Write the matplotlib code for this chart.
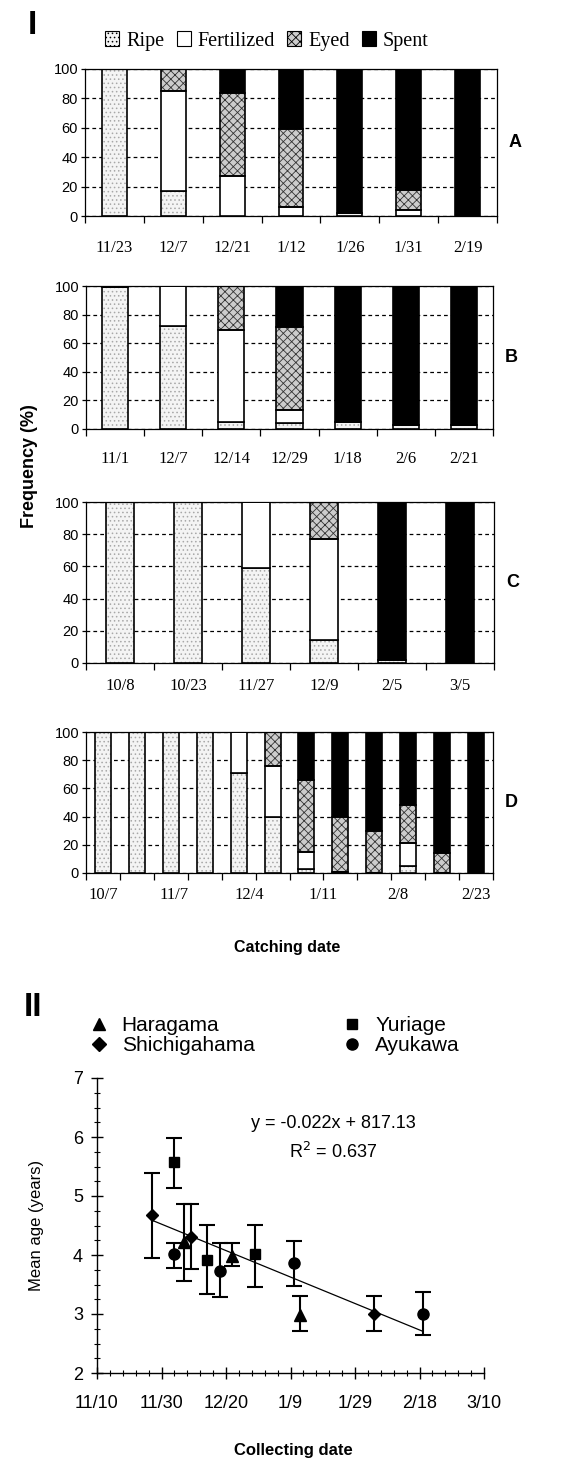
import matplotlib
matplotlib.use("Agg")
import matplotlib.pyplot as plt
import matplotlib.dates as mdates
from matplotlib.patches import Patch
from matplotlib.lines import Line2D
import numpy as np
import datetime as dt

plt.rcParams['font.family'] = ['Liberation Sans', 'DejaVu Sans']
plt.rcParams['hatch.linewidth'] = 0.6

# ---------------- Data: panel I ----------------
stages = ['Ripe', 'Fertilized', 'Eyed', 'Spent']

catsA = ['11/23', '12/7', '12/21', '1/12', '1/26', '1/31', '2/19']
A_ripe = [100, 17, 0, 0, 2, 0, 0]
A_fert = [0, 68, 27, 6, 0, 4, 0]
A_eyed = [0, 15, 57, 53, 0, 14, 0]
A_spent = [0, 0, 16, 41, 98, 82, 100]

catsB = ['11/1', '12/7', '12/14', '12/29', '1/18', '2/6', '2/21']
B_ripe = [99, 72, 5, 4, 5, 3, 3]
B_fert = [0, 28, 64, 9, 0, 0, 0]
B_eyed = [0, 0, 31, 58, 0, 0, 0]
B_spent = [1, 0, 0, 29, 95, 97, 97]

catsC = ['10/8', '10/23', '11/27', '12/9', '2/5', '3/5']
C_ripe = [100, 100, 59, 14, 2, 0]
C_fert = [0, 0, 41, 63, 0, 0]
C_eyed = [0, 0, 0, 23, 0, 0]
C_spent = [0, 0, 0, 0, 98, 100]

nD = 12
D_ripe = [100, 100, 100, 100, 71, 40, 3, 1, 0, 5, 0, 0]
D_fert = [0, 0, 0, 0, 29, 36, 12, 0, 0, 16, 0, 0]
D_eyed = [0, 0, 0, 0, 0, 24, 51, 39, 30, 27, 14, 0]
D_spent = [0, 0, 0, 0, 0, 0, 34, 60, 70, 52, 86, 100]
D_labels = ['10/7', '11/7', '12/4', '1/11', '2/8', '2/23']
D_label_pos = [0, 2.1, 4.3, 6.5, 8.7, 11.0]

# ---------------- Data: panel II ----------------
sites = ['Haragama', 'Shichigahama', 'Yuriage', 'Ayukawa']
site_markers = {'Haragama': '^', 'Shichigahama': 'D', 'Yuriage': 's', 'Ayukawa': 'o'}
H_dates = ['2000-12-07', '2000-12-22', '2001-01-12']
H_mean = [4.22, 3.98, 2.98]
H_lo = [3.56, 3.81, 2.71]
H_hi = [4.86, 4.20, 3.30]
S_dates = ['2000-11-27', '2000-12-09', '2001-02-04']
S_mean = [4.68, 4.30, 3.00]
S_lo = [3.95, 3.76, 2.71]
S_hi = [5.39, 4.86, 3.31]
Y_dates = ['2000-12-04', '2000-12-14', '2000-12-29']
Y_mean = [5.58, 3.92, 4.02]
Y_lo = [5.13, 3.34, 3.46]
Y_hi = [5.98, 4.51, 4.51]
K_dates = ['2000-12-04', '2000-12-18', '2001-01-10', '2001-02-19']
K_mean = [4.02, 3.73, 3.86, 3.00]
K_lo = [3.78, 3.28, 3.47, 2.64]
K_hi = [4.20, 4.20, 4.23, 3.37]
eq_text = 'y = -0.022x + 817.13'
r2_text = 'R$^2$ = 0.637'
x_start, x_end = '2000-11-10', '2001-03-10'

# ---------------- Figure ----------------
W, H = 566, 1461
fig = plt.figure(figsize=(W / 100, H / 100), dpi=100)


def ax_px(l, t, r, b):
    return fig.add_axes([l / W, 1 - b / H, (r - l) / W, (b - t) / H])


RIPE_FC, RIPE_HC = '#f4f4f4', '#a8a8a8'
EYED_FC, EYED_HC = '#cccccc', '#333333'


def stacked(ax, vals, width, n):
    x = np.arange(n)
    ripe, fert, eyed, spent = [np.array(v, float) for v in vals]
    bottoms = [np.zeros(n), ripe, ripe + fert, ripe + fert + eyed]
    specs = [(ripe, RIPE_FC, RIPE_HC, '....'),
             (fert, 'white', None, None),
             (eyed, EYED_FC, EYED_HC, 'xxxx'),
             (spent, 'black', None, None)]
    for (v, fc, hc, hatch), b in zip(specs, bottoms):
        if hatch:
            ax.bar(x, v, width, bottom=b, color=fc, edgecolor=hc, hatch=hatch,
                   linewidth=0, zorder=2)
            ax.bar(x, v, width, bottom=b, fill=False, edgecolor='black',
                   linewidth=1.2, zorder=3)
        else:
            ax.bar(x, v, width, bottom=b, color=fc, edgecolor='black',
                   linewidth=1.2, zorder=3)
    ax.set_xlim(-0.5, n - 0.5)
    ax.set_ylim(0, 100)
    ax.set_yticks([0, 20, 40, 60, 80, 100])
    ax.set_xticks(np.arange(n + 1) - 0.5)
    ax.set_xticklabels([])
    ax.xaxis.remove_overlapping_locs = False
    ax.tick_params(axis='x', which='major', direction='out', length=5, width=0.9)
    ax.tick_params(axis='y', direction='out', length=3, width=0.9, labelsize=10.5, pad=2)
    ax.yaxis.grid(True, linestyle=(0, (3, 2.5)), color='black', linewidth=0.9, zorder=1)
    ax.set_axisbelow(True)
    for s in ax.spines.values():
        s.set_linewidth(0.9)


def cat_labels(ax, labels, pos, pad):
    ax.set_xticks(pos, minor=True)
    ax.set_xticklabels(labels, minor=True, family='Liberation Serif', fontsize=12)
    ax.tick_params(axis='x', which='minor', length=0, pad=pad)


panels = [
    ((85, 69, 497, 216), (A_ripe, A_fert, A_eyed, A_spent), catsA, 0.42, 'A', 17),
    ((86, 286, 493, 429), (B_ripe, B_fert, B_eyed, B_spent), catsB, 0.45, 'B', 16),
    ((86, 502, 494, 663), (C_ripe, C_fert, C_eyed, C_spent), catsC, 0.41, 'C', 11),
]
for box, vals, cats, w, lab, pad in panels:
    ax = ax_px(*box)
    n = len(cats)
    stacked(ax, vals, w, n)
    cat_labels(ax, cats, np.arange(n), pad)
    ax.text(1.045, 0.5, lab, transform=ax.transAxes, fontsize=13, fontweight='bold',
            va='center', ha='center')

axD = ax_px(86, 732, 493, 873)
stacked(axD, (D_ripe, D_fert, D_eyed, D_spent), 0.47, nD)
cat_labels(axD, D_labels, D_label_pos, 10)
axD.text(1.045, 0.5, 'D', transform=axD.transAxes, fontsize=13, fontweight='bold',
         va='center', ha='center')

# Legend panel I
leg_handles = [Patch(facecolor=RIPE_FC, edgecolor='black', hatch='....', linewidth=0.8),
               Patch(facecolor='white', edgecolor='black', linewidth=0.8),
               Patch(facecolor=EYED_FC, edgecolor='black', hatch='xxxx', linewidth=0.8),
               Patch(facecolor='black', edgecolor='black', linewidth=0.8)]
fig.legend(leg_handles, stages, loc='center', bbox_to_anchor=(267 / W, 1 - 41 / H),
           ncol=4, frameon=False, prop={'family': 'Liberation Serif', 'size': 14.5},
           handlelength=0.7, handleheight=0.7, handletextpad=0.35, columnspacing=0.6)

fig.text(32 / W, 1 - 25 / H, 'I', fontsize=24, fontweight='bold', ha='center', va='center')
fig.text(30 / W, 1 - 466 / H, 'Frequency (%)', fontsize=13, fontweight='bold',
         rotation=90, ha='center', va='center')
fig.text(287 / W, 1 - 948 / H, 'Catching date', fontsize=11.5, fontweight='bold',
         ha='center', va='center')

# ---------------- Panel II ----------------
ax2 = ax_px(97, 1078, 484, 1373)
series = [('Haragama', H_dates, H_mean, H_lo, H_hi),
          ('Shichigahama', S_dates, S_mean, S_lo, S_hi),
          ('Yuriage', Y_dates, Y_mean, Y_lo, Y_hi),
          ('Ayukawa', K_dates, K_mean, K_lo, K_hi)]
all_x, all_y = [], []
for name, ds, m, lo, hi in series:
    xd = mdates.date2num([dt.datetime.fromisoformat(d) for d in ds])
    m = np.array(m); lo = np.array(lo); hi = np.array(hi)
    ms = 8 if site_markers[name] in ('^', 'o') else 7
    if site_markers[name] == 'D':
        ms = 6.5
    ax2.errorbar(xd, m, yerr=[m - lo, hi - m], fmt=site_markers[name], color='black',
                 ecolor='black', elinewidth=1.5, capsize=5.5, capthick=1.5, markersize=ms,
                 zorder=3)
    all_x.extend(xd); all_y.extend(m)
all_x = np.array(all_x); all_y = np.array(all_y)
coef = np.polyfit(all_x, all_y, 1)
xl = np.array([all_x.min(), all_x.max()])
ax2.plot(xl, np.polyval(coef, xl), color='black', linewidth=0.9, zorder=2)

x0 = mdates.date2num(dt.datetime.fromisoformat(x_start))
x1 = mdates.date2num(dt.datetime.fromisoformat(x_end))
ax2.set_xlim(x0, x1)
ax2.set_ylim(2, 7)
ax2.set_xticks(np.arange(x0, x1 + 1, 20))
ax2.set_xticks(np.arange(x0, x1 + 1, 4), minor=True)
ax2.xaxis.set_major_formatter(plt.FuncFormatter(
    lambda v, p: f"{mdates.num2date(v).month}/{mdates.num2date(v).day}"))
ax2.set_yticks([2, 3, 4, 5, 6, 7])
ax2.set_yticks(np.arange(2, 7.01, 0.25), minor=True)
for s in ['top', 'right']:
    ax2.spines[s].set_visible(False)
for s in ['left', 'bottom']:
    ax2.spines[s].set_linewidth(1.0)
ax2.tick_params(axis='both', which='major', direction='inout', length=8, width=1.0,
                labelsize=13)
ax2.tick_params(axis='both', which='minor', direction='inout', length=4, width=0.8)
ax2.tick_params(axis='x', which='major', pad=12)
ax2.tick_params(axis='y', which='major', pad=6)
ax2.text(333 / W, 1 - 1123 / H, eq_text, transform=fig.transFigure, fontsize=13,
         ha='center', va='center')
ax2.text(333 / W, 1 - 1152 / H, r2_text, transform=fig.transFigure, fontsize=13,
         ha='center', va='center')

leg2_handles = [Line2D([], [], marker=site_markers[s], color='black', linestyle='none',
                       markersize=8 if site_markers[s] in ('^', 'o') else 7)
                for s in sites]
fig.legend(leg2_handles, sites, loc='upper left', bbox_to_anchor=(80 / W, 1 - 1008 / H),
           ncol=2, frameon=False, fontsize=15, handlelength=1.0, handletextpad=0.6,
           columnspacing=4.2, labelspacing=0.05, borderaxespad=0)

fig.text(33 / W, 1 - 1008 / H, 'II', fontsize=24, fontweight='bold', ha='center', va='center')
fig.text(37 / W, 1 - 1225 / H, 'Mean age (years)', fontsize=12, rotation=90,
         ha='center', va='center')
fig.text(293 / W, 1 - 1450 / H, 'Collecting date', fontsize=12, fontweight='bold',
         ha='center', va='center')

fig.savefig('out.png', dpi=100, facecolor='white')
